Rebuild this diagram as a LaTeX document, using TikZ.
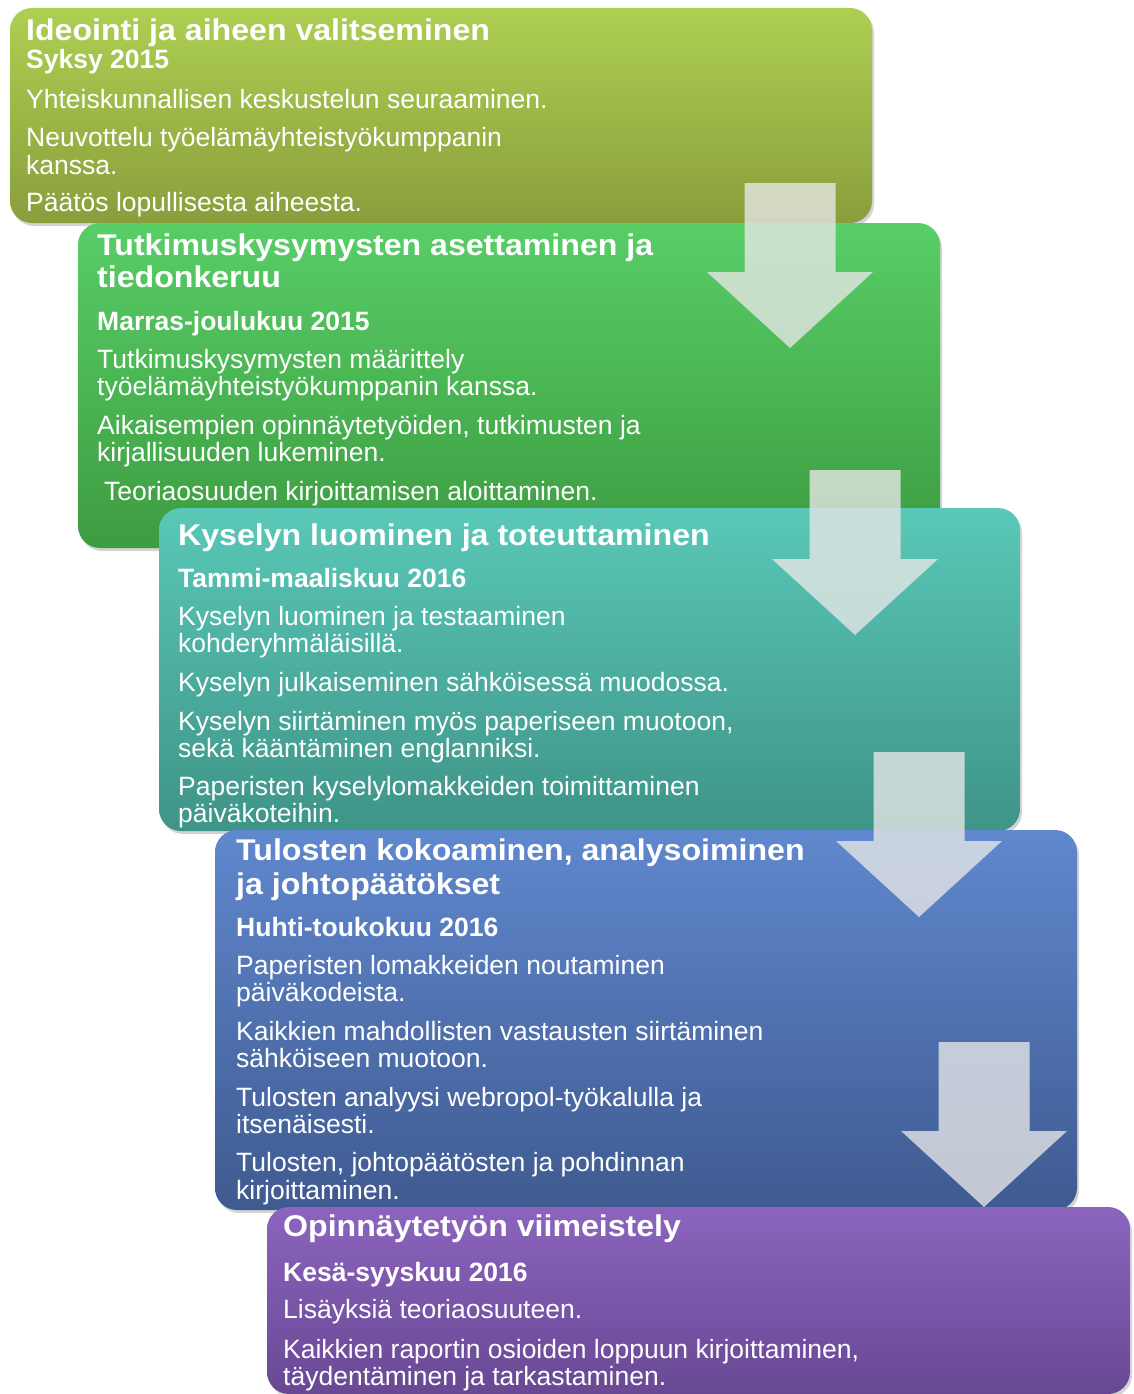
\documentclass[tikz,border=0pt]{standalone}
\usepackage{fontspec}
\setmainfont{Liberation Sans}
\newfontfamily\otsikkofont{Liberation Sans}[FakeStretch=1.07]
\usetikzlibrary{shadows}

% alaspäin osoittava nuoli: keskikohta x ja yläreuna y
\newcommand{\nuoli}[2]{%
  \fill[nuoli] (#1-45.5,#2) -- (#1+45.5,#2) -- (#1+45.5,#2+89) -- (#1+83,#2+89)
    -- (#1,#2+165) -- (#1-83,#2+89) -- (#1-45.5,#2+89) -- cycle;}

\definecolor{vaihe1yla}{HTML}{ADCF52}
\definecolor{vaihe1ala}{HTML}{8A9E3C}
\definecolor{vaihe2yla}{HTML}{58CE67}
\definecolor{vaihe2ala}{HTML}{3D9C40}
\definecolor{vaihe3yla}{HTML}{5AC8B8}
\definecolor{vaihe3ala}{HTML}{3E9487}
\definecolor{vaihe4yla}{HTML}{6088CE}
\definecolor{vaihe4ala}{HTML}{3F5A90}
\definecolor{vaihe5yla}{HTML}{8C64BE}
\definecolor{vaihe5ala}{HTML}{684893}

\begin{document}
\begin{tikzpicture}[x=1pt, y=-1pt,
    vaihe/.style={rounded corners=22pt,
      drop shadow={shadow xshift=2pt, shadow yshift=-3pt, opacity=0.35}},
    nuoli/.style={fill=white!82!gray, fill opacity=0.78},
    otsikko/.style={anchor=base west, inner sep=0pt, text=white,
      font=\otsikkofont\fontsize{30}{32}\selectfont\bfseries},
    pvm/.style={anchor=base west, inner sep=0pt, text=white,
      font=\fontsize{26.5}{28}\selectfont\bfseries},
    rivi/.style={anchor=base west, inner sep=0pt, text=white,
      font=\fontsize{26.5}{28}\selectfont}]
    \useasboundingbox (0,0) rectangle (1133,1394);

    % --- VAIHE 1 ---
    \shade[vaihe, top color=vaihe1yla, bottom color=vaihe1ala] (10,8) rectangle (872,223);
    \node[otsikko] (o1) at (26,40.7) {Ideointi ja aiheen valitseminen};
    \node[pvm] (p1) at (26,68.3) {Syksy 2015};
    \node[rivi] (r1a) at (26,108.3) {Yhteiskunnallisen keskustelun seuraaminen.};
    \node[rivi] (r1b) at (26,146.7) {Neuvottelu työelämäyhteistyökumppanin};
    \node[rivi] (r1c) at (26,174) {kanssa.};
    \node[rivi] (r1d) at (26,211.7) {Päätös lopullisesta aiheesta.};

    % --- VAIHE 2 ---
    \shade[vaihe, top color=vaihe2yla, bottom color=vaihe2ala] (78,223) rectangle (940,548);
    \node[otsikko] (o2a) at (97,255) {Tutkimuskysymysten asettaminen ja};
    \node[otsikko] (o2b) at (97,287.7) {tiedonkeruu};
    \node[pvm] (p2) at (97,330) {Marras-joulukuu 2015};
    \node[rivi] (r2a) at (97,368.3) {Tutkimuskysymysten määrittely};
    \node[rivi] (r2b) at (97,395.7) {työelämäyhteistyökumppanin kanssa.};
    \node[rivi] (r2c) at (97,434.3) {Aikaisempien opinnäytetyöiden, tutkimusten ja};
    \node[rivi] (r2d) at (97,461.7) {kirjallisuuden lukeminen.};
    \node[rivi] (r2e) at (104,500) {Teoriaosuuden kirjoittamisen aloittaminen.};
    \nuoli{790}{183}

    % --- VAIHE 3 ---
    \shade[vaihe, top color=vaihe3yla, bottom color=vaihe3ala] (159,508) rectangle (1020,831);
    \node[otsikko] (o3) at (178,545.7) {Kyselyn luominen ja toteuttaminen};
    \node[pvm] (p3) at (178,587.3) {Tammi-maaliskuu 2016};
    \node[rivi] (r3a) at (178,625.7) {Kyselyn luominen ja testaaminen};
    \node[rivi] (r3b) at (178,652.7) {kohderyhmäläisillä.};
    \node[rivi] (r3c) at (178,691.7) {Kyselyn julkaiseminen sähköisessä muodossa.};
    \node[rivi] (r3d) at (178,730) {Kyselyn siirtäminen myös paperiseen muotoon,};
    \node[rivi] (r3e) at (178,757.7) {sekä kääntäminen englanniksi.};
    \node[rivi] (r3f) at (178,795) {Paperisten kyselylomakkeiden toimittaminen};
    \node[rivi] (r3g) at (178,822.7) {päiväkoteihin.};
    \nuoli{855}{470}

    % --- VAIHE 4 ---
    \shade[vaihe, top color=vaihe4yla, bottom color=vaihe4ala] (215,830) rectangle (1077,1210);
    \node[otsikko] (o4a) at (236,860.7) {Tulosten kokoaminen, analysoiminen};
    \node[otsikko] (o4b) at (236,894) {ja johtopäätökset};
    \node[pvm] (p4) at (236,936) {Huhti-toukokuu 2016};
    \node[rivi] (r4a) at (236,974.3) {Paperisten lomakkeiden noutaminen};
    \node[rivi] (r4b) at (236,1001.7) {päiväkodeista.};
    \node[rivi] (r4c) at (236,1040) {Kaikkien mahdollisten vastausten siirtäminen};
    \node[rivi] (r4d) at (236,1067.7) {sähköiseen muotoon.};
    \node[rivi] (r4e) at (236,1106) {Tulosten analyysi webropol-työkalulla ja};
    \node[rivi] (r4f) at (236,1133.3) {itsenäisesti.};
    \node[rivi] (r4g) at (236,1171.7) {Tulosten, johtopäätösten ja pohdinnan};
    \node[rivi] (r4h) at (236,1199.3) {kirjoittaminen.};
    \nuoli{919}{752}

    % --- VAIHE 5 ---
    \shade[vaihe, top color=vaihe5yla, bottom color=vaihe5ala] (267,1207) rectangle (1130,1394);
    \node[otsikko] (o5) at (283,1236.5) {Opinnäytetyön viimeistely};
    \node[pvm] (p5) at (283,1281.7) {Kesä-syyskuu 2016};
    \node[rivi] (r5a) at (283,1318.3) {Lisäyksiä teoriaosuuteen.};
    \node[rivi] (r5b) at (283,1358.3) {Kaikkien raportin osioiden loppuun kirjoittaminen,};
    \node[rivi] (r5c) at (283,1385) {täydentäminen ja tarkastaminen.};
    \nuoli{984}{1042}
\end{tikzpicture}
\end{document}
